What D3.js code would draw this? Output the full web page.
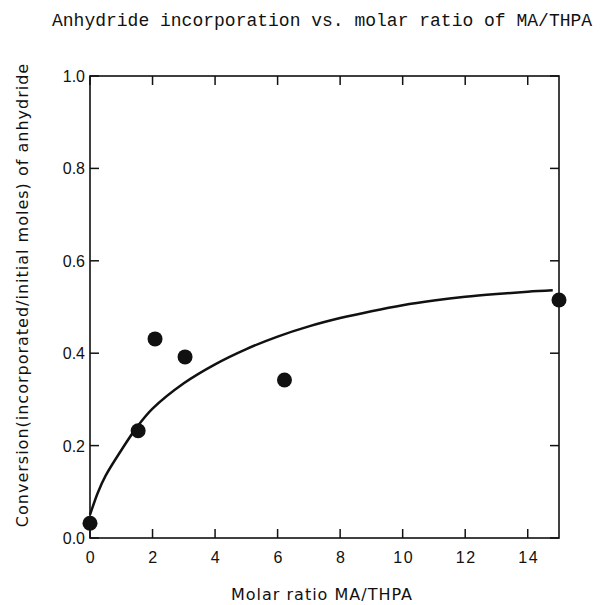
<!DOCTYPE html>
<html>
<head>
<meta charset="utf-8">
<script src="https://cdn.jsdelivr.net/npm/d3@7"></script>
<style>
  body { margin: 0; background: #fff; }
  .tick-label { font-family: "Liberation Sans", Arial, sans-serif; font-size: 16px; fill: #111; }
  .x-tick { letter-spacing: 1.5px; }
  .axis-title { font-family: "DejaVu Sans", sans-serif; font-size: 16px; letter-spacing: 1px; fill: #111; }
  .chart-title { font-family: "Liberation Mono", "Courier New", monospace; font-size: 18px; fill: #111; }
</style>
</head>
<body>
<div id="chart"></div>
<script>
const molarRatio = [0, 1.54, 2.08, 3.04, 6.22, 15.0];
const conversion = [0.032, 0.232, 0.431, 0.392, 0.342, 0.515];

// fitted curve
const fitX = [0, 0.25, 0.5, 1, 1.5, 2, 3, 4, 5, 6, 7, 8, 9, 10, 11, 12, 13, 14, 14.8];
const fitY = [0.05, 0.098, 0.135, 0.19, 0.24, 0.28, 0.335, 0.376, 0.409, 0.436, 0.458, 0.476, 0.491, 0.504, 0.514, 0.522, 0.528, 0.533, 0.536];

const xTicks = [0, 2, 4, 6, 8, 10, 12, 14];
const yTicks = [0, 0.2, 0.4, 0.6, 0.8, 1.0];

const titleText = "Anhydride incorporation vs. molar ratio of MA/THPA";
const xLabel = "Molar ratio MA/THPA";
const yLabel = "Conversion(incorporated/initial moles) of anhydride";

const frame = { left: 90, right: 559, top: 76, bottom: 538 };
const tickLen = 9;

const svg = d3.select("#chart").append("svg")
    .attr("width", 609).attr("height", 605);

const x = d3.scaleLinear().domain([0, 15]).range([frame.left, frame.right]);
const y = d3.scaleLinear().domain([0, 1]).range([frame.bottom, frame.top]);

// frame
svg.append("rect")
    .attr("x", frame.left).attr("y", frame.top)
    .attr("width", frame.right - frame.left).attr("height", frame.bottom - frame.top)
    .attr("fill", "none").attr("stroke", "#111").attr("stroke-width", 1.6);

// inward ticks on all four sides
const tickG = svg.append("g").attr("stroke", "#111").attr("stroke-width", 1.5);
xTicks.forEach(t => {
    tickG.append("line").attr("x1", x(t)).attr("x2", x(t))
        .attr("y1", frame.bottom).attr("y2", frame.bottom - tickLen);
    tickG.append("line").attr("x1", x(t)).attr("x2", x(t))
        .attr("y1", frame.top).attr("y2", frame.top + tickLen);
});
yTicks.forEach(t => {
    tickG.append("line").attr("x1", frame.left).attr("x2", frame.left + tickLen)
        .attr("y1", y(t)).attr("y2", y(t));
    tickG.append("line").attr("x1", frame.right).attr("x2", frame.right - tickLen)
        .attr("y1", y(t)).attr("y2", y(t));
});

// tick labels
svg.append("g").selectAll("text").data(xTicks).enter().append("text")
    .attr("class", "tick-label x-tick")
    .attr("x", d => x(d) + 1).attr("y", 563)
    .attr("text-anchor", "middle")
    .text(d => d);

svg.append("g").selectAll("text").data(yTicks).enter().append("text")
    .attr("class", "tick-label")
    .attr("x", 85).attr("y", d => y(d) + 6)
    .attr("text-anchor", "end")
    .text(d => d3.format(".1f")(d));

// curve
const line = d3.line().x(d => x(d[0])).y(d => y(d[1])).curve(d3.curveCatmullRom);
svg.append("path")
    .datum(fitX.map((v, i) => [v, fitY[i]]))
    .attr("d", line)
    .attr("fill", "none").attr("stroke", "#111").attr("stroke-width", 2.5);

// points
svg.append("g").selectAll("circle").data(molarRatio).enter().append("circle")
    .attr("cx", d => x(d)).attr("cy", (d, i) => y(conversion[i]))
    .attr("r", 7.5).attr("fill", "#111");

// titles
svg.append("text").attr("class", "chart-title")
    .attr("x", 52).attr("y", 26).text(titleText);

svg.append("text").attr("class", "axis-title")
    .attr("x", 322).attr("y", 600)
    .attr("text-anchor", "middle").text(xLabel);

svg.append("text").attr("class", "axis-title")
    .attr("transform", "translate(28,295) rotate(-90)")
    .attr("text-anchor", "middle").text(yLabel);
</script>
</body>
</html>
